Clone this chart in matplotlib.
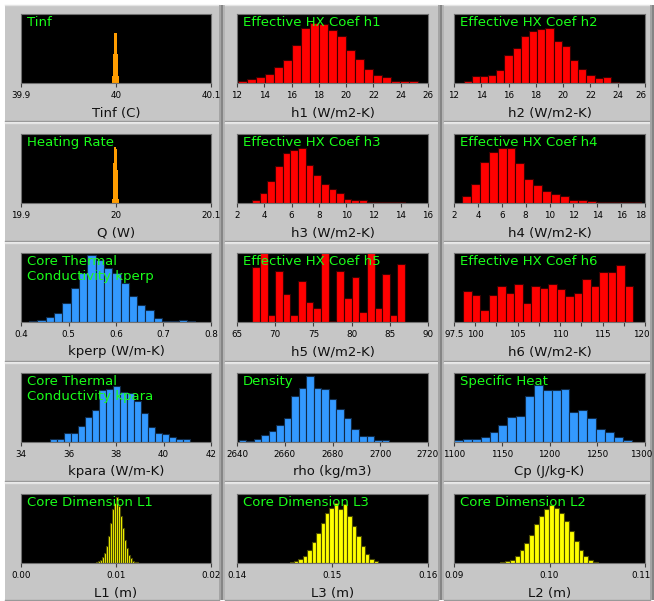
import numpy as np
import matplotlib.pyplot as plt
import matplotlib.transforms as mtransforms
from matplotlib.patches import Rectangle
from matplotlib.lines import Line2D

W, H = 654, 601

# bins: first bin edge, bin width, counts
tinf_start, tinf_width = 39.9958, 0.0013
tinf_counts = [20, 87, 148, 148, 87, 20]

q_start, q_width = 19.9958, 0.0013
q_counts = [12, 120, 166, 160, 100, 12]

h1_start, h1_width = 12.05, 0.66
h1_counts = [5, 12, 18, 26, 48, 70, 113, 165, 178, 175, 157, 140, 100, 73, 42, 23, 18, 5, 5, 5]

h2_start, h2_width = 12.7, 0.6
h2_counts = [5, 21, 21, 24, 38, 83, 105, 140, 156, 162, 165, 125, 110, 70, 43, 23, 15, 19, 2, 1]

h3_start, h3_width = 3.11, 0.56
h3_counts = [8, 29, 67, 110, 148, 158, 164, 113, 83, 57, 42, 29, 13, 8, 8, 3, 2, 2, 2, 2]

h4_start, h4_width = 2.65, 0.75
h4_counts = [20, 58, 123, 153, 164, 164, 118, 71, 53, 36, 28, 20, 8, 8, 5, 2, 2, 4, 2, 2]

kperp_start, kperp_width = 0.417, 0.0175
kperp_counts = [4, 6, 14, 26, 58, 101, 146, 201, 186, 161, 146, 116, 78, 52, 36, 11, 4, 3, 6, 2]

h5_start, h5_width = 67.0, 1.0
h5_counts = [164, 230, 21, 153, 83, 21, 123, 61, 42, 230, 3, 153, 71, 134, 31, 230, 42, 144, 21, 174]

h6_start, h6_width = 98.6, 1.0
h6_counts = [93, 82, 36, 82, 108, 88, 113, 58, 108, 101, 113, 98, 78, 88, 129, 108, 148, 148, 170, 108]

kpara_start, kpara_width = 35.2, 0.295
kpara_counts = [8, 8, 27, 27, 49, 76, 96, 154, 158, 166, 148, 146, 121, 86, 44, 27, 24, 16, 8, 8]

rho_start, rho_width = 2640.7, 3.15
rho_counts = [6, 3, 8, 21, 33, 51, 73, 136, 162, 198, 162, 157, 128, 98, 71, 40, 19, 19, 6, 6]

cp_start, cp_width = 1100.0, 9.3
cp_counts = [6, 9, 9, 14, 31, 51, 76, 79, 136, 171, 154, 154, 158, 91, 96, 71, 38, 31, 16, 6]

l1_start, l1_width = 0.0079, 0.00021
l1_counts = [3, 5, 10, 18, 30, 50, 80, 120, 160, 180, 198, 170, 140, 105, 70, 45, 25, 14, 7, 4, 2]

l3_start, l3_width = 0.1455, 0.000465
l3_counts = [3, 6, 12, 22, 40, 62, 90, 120, 150, 165, 178, 160, 175, 140, 110, 80, 50, 28, 12, 5]

l2_start, l2_width = 0.0948, 0.000515
l2_counts = [3, 5, 10, 20, 38, 60, 85, 115, 140, 160, 172, 165, 150, 125, 95, 65, 40, 20, 8, 3]

ORANGE, RED, BLUE, YELLOW = '#ff9c00', '#ff0000', '#3399ff', '#ffff00'
GREEN = '#1aff1a'

panels = [
    ("Tinf", "Tinf (C)", tinf_start, tinf_width, tinf_counts, ORANGE, (39.9, 40.1), [39.9, 40, 40.1], ["39.9", "40", "40.1"], None),
    ("Effective HX Coef h1", "h1 (W/m2-K)", h1_start, h1_width, h1_counts, RED, (12, 26), list(range(12, 27, 2)), None, None),
    ("Effective HX Coef h2", "h2 (W/m2-K)", h2_start, h2_width, h2_counts, RED, (12, 26), list(range(12, 27, 2)), None, None),
    ("Heating Rate", "Q (W)", q_start, q_width, q_counts, ORANGE, (19.9, 20.1), [19.9, 20, 20.1], ["19.9", "20", "20.1"], None),
    ("Effective HX Coef h3", "h3 (W/m2-K)", h3_start, h3_width, h3_counts, RED, (2, 16), list(range(2, 17, 2)), None, None),
    ("Effective HX Coef h4", "h4 (W/m2-K)", h4_start, h4_width, h4_counts, RED, (2, 18), list(range(2, 19, 2)), None, None),
    ("Core Thermal\nConductivity kperp", "kperp (W/m-K)", kperp_start, kperp_width, kperp_counts, BLUE, (0.4, 0.8), [0.4, 0.5, 0.6, 0.7, 0.8], ["0.4", "0.5", "0.6", "0.7", "0.8"], None),
    ("Effective HX Coef h5", "h5 (W/m2-K)", h5_start, h5_width, h5_counts, RED, (65, 90), list(range(65, 91, 5)), None, None),
    ("Effective HX Coef h6", "h6 (W/m2-K)", h6_start, h6_width, h6_counts, RED, (97.5, 120), [97.5, 100, 105, 110, 115, 120], ["97.5", "100", "105", "110", "115", "120"], [102.5, 107.5, 112.5, 117.5]),
    ("Core Thermal\nConductivity kpara", "kpara (W/m-K)", kpara_start, kpara_width, kpara_counts, BLUE, (34, 42), list(range(34, 43, 2)), None, None),
    ("Density", "rho (kg/m3)", rho_start, rho_width, rho_counts, BLUE, (2640, 2720), list(range(2640, 2721, 20)), None, None),
    ("Specific Heat", "Cp (J/kg-K)", cp_start, cp_width, cp_counts, BLUE, (1100, 1300), list(range(1100, 1301, 50)), None, None),
    ("Core Dimension L1", "L1 (m)", l1_start, l1_width, l1_counts, YELLOW, (0.0, 0.02), [0.0, 0.01, 0.02], ["0.00", "0.01", "0.02"], None),
    ("Core Dimension L3", "L3 (m)", l3_start, l3_width, l3_counts, YELLOW, (0.14, 0.16), [0.14, 0.15, 0.16], ["0.14", "0.15", "0.16"], None),
    ("Core Dimension L2", "L2 (m)", l2_start, l2_width, l2_counts, YELLOW, (0.09, 0.11), [0.09, 0.10, 0.11], ["0.09", "0.10", "0.11"], None),
]

edge_for = {ORANGE: 'none', RED: '#3a0000', BLUE: '#102a48', YELLOW: '#4a4a00'}

col_plot = [(21, 211), (237, 428), (454, 645)]
row_plot = [(14, 83), (134, 203), (253, 322), (373, 442), (494, 563)]
col_panel = [(5, 219), (225, 438), (444, 650)]
row_panel = [(5, 121), (123, 241), (243, 361), (363, 481), (483, 600)]


def fx(x):
    return x / W


def fy(y):
    return 1 - y / H


fig = plt.figure(figsize=(W / 100, H / 100), dpi=100)
fig.patch.set_facecolor('white')

# grey panel frames
for (x0, x1) in col_panel:
    for (y0, y1) in row_panel:
        fig.add_artist(Rectangle((fx(x0), fy(y1)), fx(x1 - x0), (y1 - y0) / H,
                                 transform=fig.transFigure, facecolor='#c6c6c6',
                                 edgecolor='none', zorder=-5))
        fig.add_artist(Line2D([fx(x0), fx(x1)], [fy(y0), fy(y0)], transform=fig.transFigure,
                              color='#e4e4e4', lw=1, zorder=-4))
        fig.add_artist(Line2D([fx(x0), fx(x1)], [fy(y1), fy(y1)], transform=fig.transFigure,
                              color='#999999', lw=1, zorder=-4))
    # dark separator band to the right of each column
    for xa, xb, c in [(x1, x1 + 2, '#a4a4a4'), (x1 + 2, x1 + 4, '#858585'), (x1 + 4, x1 + 6, '#b4b4b4')]:
        fig.add_artist(Rectangle((fx(xa), fy(600)), fx(xb - xa), 595 / H,
                                 transform=fig.transFigure, facecolor=c,
                                 edgecolor='none', zorder=-4))

for i, (title, xlab, start, width, counts, color, xlim, ticks, labels, minor) in enumerate(panels):
    r, c = divmod(i, 3)
    x0, x1 = col_plot[c]
    y0, y1 = row_plot[r]
    ax = fig.add_axes([fx(x0), fy(y1), fx(x1 - x0), (y1 - y0) / H])
    ax.set_facecolor('black')
    lefts = start + width * np.arange(len(counts))
    ax.bar(lefts, counts, width=width, align='edge', color=color,
           edgecolor=edge_for[color], linewidth=0.8)
    ax.set_xlim(*xlim)
    ax.set_ylim(0, 206)
    ax.set_yticks([])
    ax.set_xticks(ticks)
    if labels is None:
        labels = [str(t) for t in ticks]
    ax.set_xticklabels(labels, fontsize=6.3)
    if minor:
        ax.set_xticks(minor, minor=True)
    ax.tick_params(axis='x', which='both', direction='out', length=3, width=0.8,
                   color='#404040', pad=2.5)
    if c == 2:
        # keep the right-most label inside the picture
        last = ax.get_xticklabels()[-1]
        shift = mtransforms.ScaledTranslation(-4 / 100, 0, fig.dpi_scale_trans)
        last.set_transform(last.get_transform() + shift)
    for s in ax.spines.values():
        s.set_color('#707070')
        s.set_linewidth(0.8)
    fig.text(fx(x0 + 6), fy(y0 + 2), title, color=GREEN, fontsize=9.5,
             va='top', ha='left', linespacing=1.2, zorder=10)
    fig.text(fx((x0 + x1) / 2), fy(y1 + 30), xlab, fontsize=9.5,
             va='center', ha='center', color='#111111')

fig.savefig('out.png', dpi=100, facecolor=fig.get_facecolor())
